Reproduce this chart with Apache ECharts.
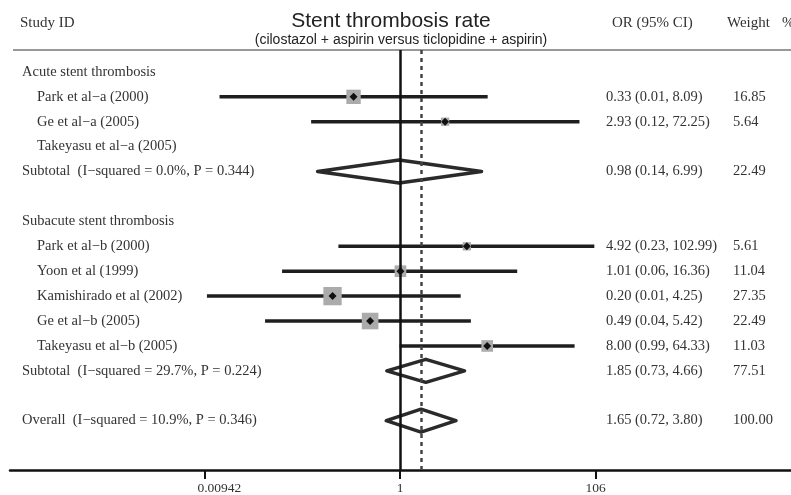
<!DOCTYPE html>
<html>
<head>
<meta charset="utf-8">
<script src="https://cdn.jsdelivr.net/npm/echarts@6/dist/echarts.min.js"></script>
<style>
  html, body { margin: 0; padding: 0; background: #fff; }
  #view { width: 791px; height: 495px; }
</style>
</head>
<body>
<div id="view"></div>
<script>
// rows of the forest plot, top to bottom
var rowLabels = ['Acute stent thrombosis', 'Park et al\u2212a (2000)', 'Ge et al\u2212a (2005)', 'Takeyasu et al\u2212a (2005)',
  'Subtotal  (I\u2212squared = 0.0%, P = 0.344)', '', 'Subacute stent thrombosis', 'Park et al\u2212b (2000)',
  'Yoon et al (1999)', 'Kamishirado et al (2002)', 'Ge et al\u2212b (2005)', 'Takeyasu et al\u2212b (2005)',
  'Subtotal  (I\u2212squared = 29.7%, P = 0.224)', '', 'Overall  (I\u2212squared = 10.9%, P = 0.346)']
var rowKinds = ['head', 'study', 'study', 'study', 'sub', 'blank', 'head', 'study', 'study', 'study', 'study', 'study', 'sub', 'blank', 'sub']
var orVals = [null, 0.33, 2.93, null, 0.98, null, null, 4.92, 1.01, 0.20, 0.49, 8.00, 1.85, null, 1.65]
var loVals = [null, 0.0135, 0.12, null, 0.14, null, null, 0.23, 0.06, 0.01, 0.04, 0.99, 0.73, null, 0.72]
var hiVals = [null, 8.09, 72.25, null, 6.99, null, null, 102.99, 16.36, 4.25, 5.42, 64.33, 4.66, null, 3.80]
var ciLabels = ['', '0.33 (0.01, 8.09)', '2.93 (0.12, 72.25)', '', '0.98 (0.14, 6.99)', '', '',
  '4.92 (0.23, 102.99)', '1.01 (0.06, 16.36)', '0.20 (0.01, 4.25)', '0.49 (0.04, 5.42)', '8.00 (0.99, 64.33)',
  '1.85 (0.73, 4.66)', '', '1.65 (0.72, 3.80)']
var weightLabels = ['', '16.85', '5.64', '', '22.49', '', '', '5.61', '11.04', '27.35', '22.49', '11.03', '77.51', '', '100.00']
var overallOR = 1.65
var tickVals = [0.00942, 1, 106]
var tickLabels = ['0.00942', '1', '106']

var serif = '"Liberation Serif", "DejaVu Serif", serif'
var sans = '"Liberation Sans", Arial, sans-serif'
var txtColor = '#333'
var rowFont = '14.5px ' + serif

var rows = rowLabels.map(function (name, i) { return [orVals[i] || 1, i] })

function renderRow(params, api) {
  var i = params.dataIndex
  var kind = rowKinds[i]
  var y = api.coord([1, i])[1]
  var kids = []
  if (kind == 'blank') return { type: 'group', children: [] }
  var lx = (kind == 'study') ? 37 : 22
  kids.push({ type: 'text', x: lx, y: y, style: { text: rowLabels[i], font: rowFont, fill: txtColor, verticalAlign: 'middle' } })
  if (ciLabels[i]) {
    kids.push({ type: 'text', x: 606, y: y, style: { text: ciLabels[i], font: rowFont, fill: txtColor, verticalAlign: 'middle' } })
    kids.push({ type: 'text', x: 733, y: y, style: { text: weightLabels[i], font: rowFont, fill: txtColor, verticalAlign: 'middle' } })
  }
  if (orVals[i] == null) return { type: 'group', children: kids }
  var pOr = api.coord([orVals[i], i])[0]
  var pLo = api.coord([loVals[i], i])[0]
  var pHi = api.coord([hiVals[i], i])[0]
  if (kind == 'sub') {
    var h = 11.5
    kids.push({ type: 'polygon', shape: { points: [[pLo, y], [pOr, y - h], [pHi, y], [pOr, y + h]] },
      style: { fill: '#fff', stroke: '#2a2a2a', lineWidth: 3.5, lineJoin: 'round' } })
  } else {
    var s = 3.5 * Math.sqrt(parseFloat(weightLabels[i]))
    kids.push({ type: 'line', shape: { x1: pLo, y1: y, x2: pHi, y2: y }, style: { stroke: '#1e1e1e', lineWidth: 3.5 } })
    kids.push({ type: 'rect', shape: { x: pOr - s / 2, y: y - s / 2, width: s, height: s }, style: { fill: '#ababab' } })
    kids.push({ type: 'polygon', shape: { points: [[pOr - 4, y], [pOr, y - 4], [pOr + 4, y], [pOr, y + 4]] }, style: { fill: '#111' } })
  }
  return { type: 'group', children: kids }
}

function tickName(v) {
  for (var k = 0; k < tickVals.length; k++) {
    if (Math.abs(Math.log10(tickVals[k]) - Math.log10(v)) < 1e-3) {
      // the first label sits a little right of its tick in the original
      return k == 0 ? '{off|' + tickLabels[k] + '}' : tickLabels[k]
    }
  }
  return ''
}

var mychart = echarts.init(document.getElementById('view'), null, { renderer: 'canvas' })
var options = {
  animation: false,
  grid: { left: 10, right: 0, top: 50, bottom: 25, containLabel: false },
  xAxis: {
    type: 'log', logBase: 10, min: 0.0000912, max: 11220,
    splitLine: { show: false },
    axisLine: { show: true, onZero: false, lineStyle: { color: '#111', width: 2.5 } },
    axisTick: { show: true, length: 9, lineStyle: { color: '#111', width: 2 }, customValues: tickVals },
    axisLabel: { show: true, customValues: tickVals, formatter: tickName, margin: 11,
      fontFamily: serif, fontSize: 13.5, color: txtColor,
      rich: { off: { fontFamily: serif, fontSize: 13.5, color: txtColor, padding: [0, 0, 0, 30] } } },
    minorTick: { show: false }
  },
  yAxis: { type: 'value', inverse: true, min: -0.88, max: 15.98, show: false },
  graphic: [
    { type: 'text', x: 20, y: 23, style: { text: 'Study ID', font: '15px ' + serif, fill: txtColor, verticalAlign: 'middle' } },
    { type: 'text', x: 391, y: 21, style: { text: 'Stent thrombosis rate', font: '21px ' + sans, fill: '#222', align: 'center', verticalAlign: 'middle' } },
    { type: 'text', x: 401, y: 40, style: { text: '(cilostazol + aspirin versus ticlopidine + aspirin)', font: '14px ' + sans, fill: '#222', align: 'center', verticalAlign: 'middle' } },
    { type: 'text', x: 612, y: 23, style: { text: 'OR (95% CI)', font: '15px ' + serif, fill: txtColor, verticalAlign: 'middle' } },
    { type: 'text', x: 727, y: 23, style: { text: 'Weight', font: '15px ' + serif, fill: txtColor, verticalAlign: 'middle' } },
    { type: 'text', x: 782, y: 23, style: { text: '%', font: '15px ' + serif, fill: txtColor, verticalAlign: 'middle' } },
    { type: 'line', shape: { x1: 13, y1: 50, x2: 791, y2: 50 }, style: { stroke: '#999', lineWidth: 2 } }
  ],
  series: [
    {
      type: 'custom', renderItem: renderRow, data: rows, encode: { x: 0, y: 1 }, clip: false, z: 2
    },
    {
      type: 'line', data: [], z: 5,
      markLine: {
        silent: true, symbol: 'none', label: { show: false }, animation: false,
        data: [
          { xAxis: 1, lineStyle: { type: 'solid', color: '#111', width: 2.5 } },
          { xAxis: overallOR, lineStyle: { type: [4, 4], color: '#444', width: 2.5 } }
        ]
      }
    }
  ]
}
mychart.setOption(options)
</script>
</body>
</html>
